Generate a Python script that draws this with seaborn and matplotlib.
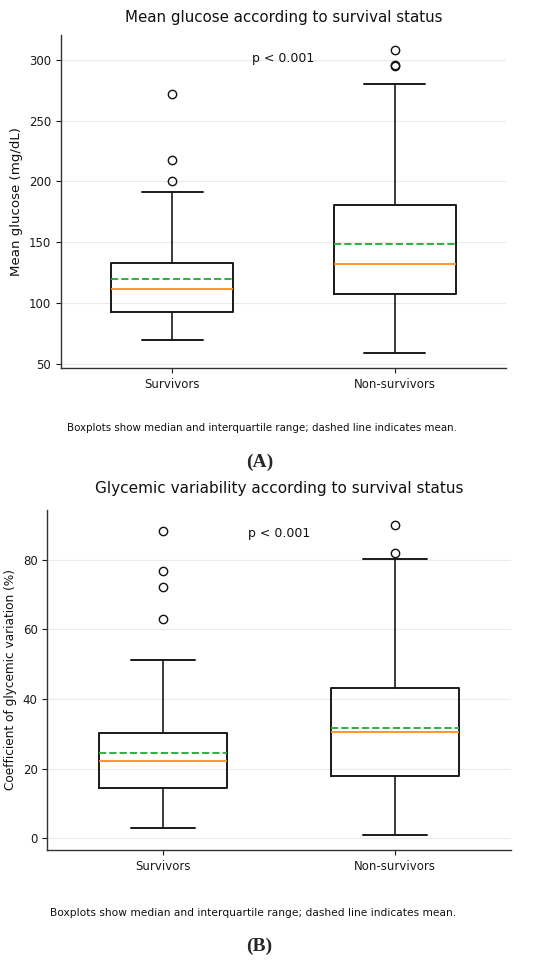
import matplotlib
matplotlib.use("Agg")
import matplotlib.pyplot as plt
import seaborn as sns

# Summary statistics
groups = ["Survivors", "Non-survivors"]

glucose_q1 = [92.1, 107.0]
glucose_median = [111.4, 132.0]
glucose_q3 = [132.6, 180.8]
glucose_mean = [119.7, 148.0]
glucose_whislo = [69.6, 58.8]
glucose_whishi = [191.2, 280.2]
glucose_fliers = [[200.1, 217.7, 272.2], [295.0, 295.9, 308.0]]

cv_q1 = [14.4, 18.0]
cv_median = [22.3, 30.4]
cv_q3 = [30.1, 43.2]
cv_mean = [24.4, 31.8]
cv_whislo = [3.0, 1.05]
cv_whishi = [51.3, 80.3]
cv_fliers = [[63.0, 72.2, 76.7, 88.3], [82.1, 89.9]]

caption = "Boxplots show median and interquartile range; dashed line indicates mean."

sns.set_style("ticks")
plt.rcParams["font.family"] = ["DejaVu Sans"]


def make_stats(q1, med, q3, mean, lo, hi, fliers):
    stats = []
    for i in range(len(groups)):
        stats.append({
            "label": groups[i],
            "q1": q1[i], "med": med[i], "q3": q3[i], "mean": mean[i],
            "whislo": lo[i], "whishi": hi[i], "fliers": fliers[i],
        })
    return stats


def draw_panel(ax, stats, title, ylabel, title_size, pad, ylabel_size):
    ax.bxp(
        stats,
        widths=0.55,
        showmeans=True,
        meanline=True,
        boxprops=dict(color="#1a1a1a", linewidth=1.4),
        whiskerprops=dict(color="#1a1a1a", linewidth=1.2),
        capprops=dict(color="#1a1a1a", linewidth=1.4),
        medianprops=dict(color="#ff8c1a", linewidth=1.3),
        meanprops=dict(color="#2cb040", linestyle="--", linewidth=1.4),
        flierprops=dict(marker="o", markerfacecolor="none",
                        markeredgecolor="#111111", markersize=6),
    )
    ax.set_title(title, fontsize=title_size, pad=pad, color="#111111")
    ax.set_ylabel(ylabel, fontsize=ylabel_size, color="#111111")
    ax.tick_params(labelsize=8.5, colors="#1a1a1a")
    ax.yaxis.grid(True, color="#ebebeb", linewidth=0.8)
    ax.set_axisbelow(True)
    ax.text(1.5, 0.93, "p < 0.001", transform=ax.get_xaxis_transform(),
            ha="center", va="center", fontsize=9, color="#111111")
    sns.despine(ax=ax)
    for s in ["left", "bottom"]:
        ax.spines[s].set_color("#333333")
        ax.spines[s].set_linewidth(1.0)


fig = plt.figure(figsize=(5.5, 9.64), dpi=100)

ax_a = fig.add_axes([0.1109, 0.6183, 0.809, 0.3454])
draw_panel(ax_a,
           make_stats(glucose_q1, glucose_median, glucose_q3, glucose_mean,
                      glucose_whislo, glucose_whishi, glucose_fliers),
           "Mean glucose according to survival status",
           "Mean glucose (mg/dL)", 10.8, 9, 9.6)

ax_b = fig.add_axes([0.086, 0.1183, 0.8425, 0.3527])
draw_panel(ax_b,
           make_stats(cv_q1, cv_median, cv_q3, cv_mean,
                      cv_whislo, cv_whishi, cv_fliers),
           "Glycemic variability according to survival status",
           "Coefficient of glycemic variation (%)", 11, 12, 8.75)

fig.text(0.476, 1 - 428 / 964, caption, ha="center", va="center",
         fontsize=7.4, color="#111111")
fig.text(0.472, 1 - 462 / 964, "(A)", ha="center", va="center",
         fontsize=14, fontweight="bold", family="Liberation Serif")
fig.text(0.461, 1 - 913 / 964, caption, ha="center", va="center",
         fontsize=7.65, color="#111111")
fig.text(0.471, 1 - 946 / 964, "(B)", ha="center", va="center",
         fontsize=14, fontweight="bold", family="Liberation Serif")

fig.savefig("out.png", dpi=100)
